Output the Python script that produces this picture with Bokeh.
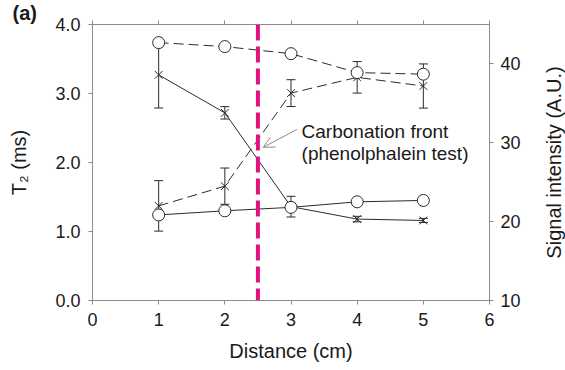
from bokeh.plotting import figure
from bokeh.layouts import row
from bokeh.models import (Range1d, LinearAxis, FixedTicker, ColumnDataSource, Whisker,
                          TeeHead, Span, Arrow, OpenHead, Label, CustomJSTickFormatter,
                          NumeralTickFormatter, Title)
from bokeh.embed import file_html
from bokeh.resources import INLINE

# ---- data ----
distance = [1, 2, 3, 4, 5]
# T2 (left axis, solid lines)
t2_open = [1.24, 1.30, 1.35, 1.43, 1.45]
t2_cross = [3.27, 2.72, 1.36, 1.18, 1.16]
t2_cross_err = [0.48, 0.09, 0.15, 0.04, 0.03]
# Signal intensity (right axis, dashed lines)
si_open = [42.7, 42.2, 41.3, 38.9, 38.7]
si_cross = [22.0, 24.5, 36.3, 38.3, 37.2]
si_cross_err = [3.2, 2.3, 1.7, 2.0, 2.8]

x_ticks = [0, 1, 2, 3, 4, 5, 6]
y_ticks = [0.0, 1.0, 2.0, 3.0, 4.0]
y2_ticks = [10, 20, 30, 40]
front_location = 2.5

FONT = "Liberation Sans"
TXT = "#1a1a1a"
AX = "#8c8c8c"
LN = "#2b2b2b"

p = figure(width=540, height=370, x_range=Range1d(0, 6), y_range=Range1d(0, 4),
           output_backend="svg", toolbar_location=None,
           min_border_left=92, min_border_right=51, min_border_top=24, min_border_bottom=70,
           background_fill_color="white", border_fill_color="white")
p.extra_y_ranges = {"sig": Range1d(10, 45)}
p.xgrid.visible = False
p.ygrid.visible = False
p.outline_line_color = AX
p.outline_line_width = 1

p.title.text = "(a)"
p.title.align = "left"
p.title.offset = -80
p.title.standoff = -7
p.title.vertical_align = "bottom"
p.title.text_font = FONT
p.title.text_font_size = "20px"
p.title.text_font_style = "bold"
p.title.text_color = TXT


def style_axis(ax, standoff):
    ax.axis_line_color = AX
    ax.major_tick_line_color = AX
    ax.major_tick_out = 4
    ax.major_tick_in = 0
    ax.minor_tick_line_color = None
    ax.major_label_text_font = FONT
    ax.major_label_text_font_size = "18px"
    ax.major_label_text_color = TXT
    ax.axis_label_text_font = FONT
    ax.axis_label_text_font_size = "20px"
    ax.axis_label_text_font_style = "normal"
    ax.axis_label_text_color = TXT
    ax.major_label_standoff = standoff


xa = p.xaxis[0]
style_axis(xa, 8)
xa.ticker = FixedTicker(ticks=x_ticks)
xa.axis_label = "Distance (cm)"
xa.axis_label_standoff = 11

ya = p.yaxis[0]
style_axis(ya, 8)
ya.ticker = FixedTicker(ticks=y_ticks)
ya.formatter = NumeralTickFormatter(format="0.0")
ya.axis_label = "T\u2082 (ms)"
ya.axis_label_standoff = 22

# right axis: ticks and tick labels
ra = LinearAxis(y_range_name="sig", ticker=FixedTicker(ticks=y2_ticks))
style_axis(ra, 7)
p.add_layout(ra, "right")

ta = LinearAxis(ticker=FixedTicker(ticks=x_ticks),
                formatter=CustomJSTickFormatter(code="return ''"))
style_axis(ta, 0)
p.add_layout(ta, "above")

src = ColumnDataSource(dict(x=distance, t2o=t2_open, t2x=t2_cross,
                            t2x_lo=[v - e for v, e in zip(t2_cross, t2_cross_err)],
                            t2x_hi=[v + e for v, e in zip(t2_cross, t2_cross_err)],
                            sio=si_open, six=si_cross,
                            six_lo=[v - e for v, e in zip(si_cross, si_cross_err)],
                            six_hi=[v + e for v, e in zip(si_cross, si_cross_err)]))

# carbonation front
p.add_layout(Span(location=front_location, dimension="height", line_color="#e3117c",
                  line_width=4, line_dash="16 6"))

# lines
p.line("x", "t2o", source=src, line_color=LN, line_width=1)
p.line("x", "t2x", source=src, line_color=LN, line_width=1)
p.line("x", "sio", source=src, line_color=LN, line_width=1, line_dash="10 5", y_range_name="sig")
p.line("x", "six", source=src, line_color=LN, line_width=1, line_dash="10 5", y_range_name="sig")

# error bars
p.add_layout(Whisker(source=src, base="x", lower="t2x_lo", upper="t2x_hi", line_color=LN,
                     upper_head=TeeHead(size=9, line_color=LN),
                     lower_head=TeeHead(size=9, line_color=LN)))
p.add_layout(Whisker(source=src, base="x", lower="six_lo", upper="six_hi", line_color=LN,
                     y_range_name="sig",
                     upper_head=TeeHead(size=9, line_color=LN),
                     lower_head=TeeHead(size=9, line_color=LN)))

# markers
p.scatter("x", "t2x", source=src, marker="x", size=11, line_color=LN, line_width=1)
p.scatter("x", "six", source=src, marker="x", size=11, line_color=LN, line_width=1,
          y_range_name="sig")
p.scatter("x", "t2o", source=src, marker="circle", size=12, line_color=LN, line_width=1,
          fill_color="white")
p.scatter("x", "sio", source=src, marker="circle", size=12, line_color=LN, line_width=1,
          fill_color="white", y_range_name="sig")

# annotation
p.add_layout(Arrow(x_start=3.09, y_start=2.48, x_end=2.58, y_end=2.22,
                   line_color="#8c8c8c", line_width=1,
                   end=OpenHead(size=11, line_color="#8c8c8c", line_width=1)))
p.add_layout(Label(x=3.16, y=2.45, text="Carbonation front", text_font=FONT,
                   text_font_size="19px", text_color=TXT, text_baseline="middle"))
p.add_layout(Label(x=3.16, y=2.13, text="(phenolphalein test)", text_font=FONT,
                   text_font_size="19px", text_color=TXT, text_baseline="middle"))

# right-hand axis title, reading bottom-to-top as in the reference
p2 = figure(width=25, height=370, output_backend="svg", toolbar_location=None,
            x_axis_type=None, y_axis_type=None, min_border_left=0, min_border_right=0,
            min_border_top=8, min_border_bottom=62,
            background_fill_color="white", border_fill_color="white")
p2.outline_line_color = None
p2.xgrid.visible = False
p2.ygrid.visible = False
p2.add_layout(Title(text="Signal intensity (A.U.)", align="center", standoff=0,
                    text_font=FONT, text_font_size="20px", text_font_style="normal",
                    text_color=TXT), "left")

open("out.html", "w").write(file_html(row(p, p2), INLINE))
